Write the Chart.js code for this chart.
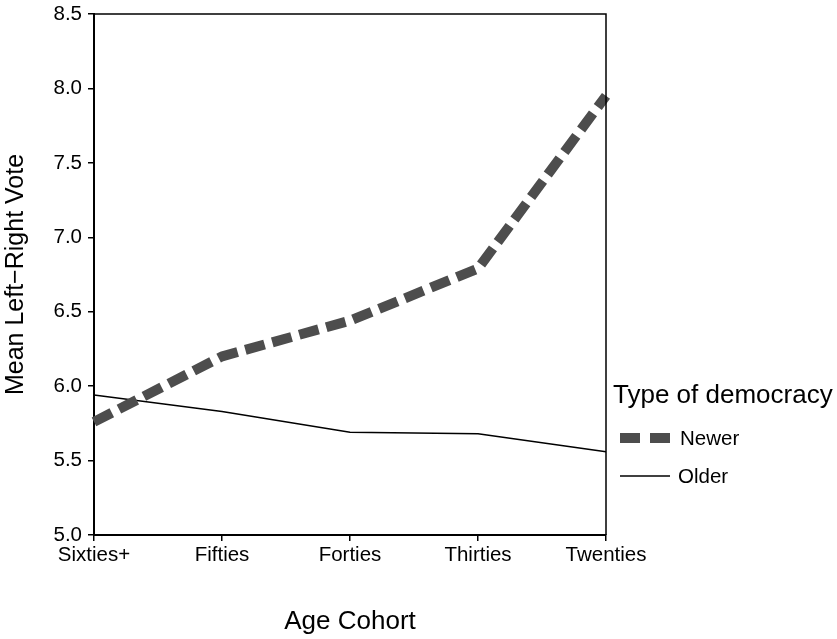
<!DOCTYPE html>
<html lang="en">

<head>
    <meta charset="UTF-8">
    <title>Mean Left-Right Vote by Age Cohort</title>
    <script src="https://cdn.jsdelivr.net/npm/chart.js"></script>
    <style>
        body {
            margin: 0;
            background: #fff;
        }

        #graph {
            width: 837px;
            height: 639px;
        }
    </style>
</head>

<body>
    <div id="graph">
        <canvas id="myChart"></canvas>
    </div>

    <script>
        // dados
        const coortes = ['Sixties+', 'Fifties', 'Forties', 'Thirties', 'Twenties'];
        const votoNewer = [5.76, 6.20, 6.44, 6.79, 7.95];
        const votoOlder = [5.94, 5.83, 5.69, 5.68, 5.56];
        const ticksY = [5.0, 5.5, 6.0, 6.5, 7.0, 7.5, 8.0, 8.5];

        const fonte = "'Liberation Sans', Arial, sans-serif";
        const corNewer = '#4d4d4d';

        // moldura + legenda desenhada à direita
        const legendaPlugin = {
            id: 'legendaPlugin',
            afterDraw(chart) {
                const ctx = chart.ctx;
                const a = chart.chartArea;
                ctx.save();

                // borda de cima e da direita
                ctx.strokeStyle = '#000';
                ctx.lineWidth = 1.5;
                ctx.beginPath();
                ctx.moveTo(a.left, a.top);
                ctx.lineTo(a.right, a.top);
                ctx.lineTo(a.right, a.bottom);
                ctx.stroke();

                const ds = chart.data.datasets;
                ctx.fillStyle = '#000';
                ctx.textBaseline = 'middle';
                ctx.textAlign = 'left';
                ctx.font = '26px ' + fonte;
                ctx.fillText('Type of democracy', 613, 396);

                // Newer
                ctx.strokeStyle = ds[0].borderColor;
                ctx.lineWidth = ds[0].borderWidth;
                ctx.lineCap = 'butt';
                ctx.setLineDash([20, 10]);
                ctx.beginPath();
                ctx.moveTo(620, 438);
                ctx.lineTo(670, 438);
                ctx.stroke();

                // Older
                ctx.setLineDash([]);
                ctx.strokeStyle = ds[1].borderColor;
                ctx.lineWidth = ds[1].borderWidth;
                ctx.beginPath();
                ctx.moveTo(620, 476);
                ctx.lineTo(670, 476);
                ctx.stroke();

                ctx.font = '20.5px ' + fonte;
                ctx.fillText(ds[0].label, 680, 439);
                ctx.fillText(ds[1].label, 678, 477);

                ctx.restore();
            }
        };

        const ctx = document.getElementById('myChart');

        new Chart(ctx, {
            type: 'line',
            data: {
                labels: coortes,
                datasets: [{
                    label: 'Newer',
                    data: votoNewer,
                    borderColor: corNewer,
                    borderWidth: 10,
                    borderDash: [20, 8],
                    borderCapStyle: 'butt',
                    pointRadius: 0,
                    tension: 0
                },
                {
                    label: 'Older',
                    data: votoOlder,
                    borderColor: '#000000',
                    borderWidth: 1.5,
                    pointRadius: 0,
                    tension: 0
                }]
            },
            plugins: [legendaPlugin],
            options: {
                responsive: true,
                maintainAspectRatio: false,
                animation: false,
                layout: {
                    padding: { top: 14, right: 231, bottom: 0, left: 0 }
                },
                plugins: {
                    legend: { display: false },
                    tooltip: { enabled: false }
                },
                scales: {
                    x: {
                        offset: false,
                        afterFit: function (scale) {
                            scale.height = 104;
                            scale.paddingLeft = 0;
                            scale.paddingRight = 0;
                        },
                        grid: {
                            drawOnChartArea: false,
                            color: '#000',
                            lineWidth: 1.5,
                            tickLength: 6
                        },
                        border: { color: '#000', width: 2 },
                        ticks: {
                            color: '#000',
                            padding: 2,
                            maxRotation: 0,
                            font: { family: fonte, size: 20.5 }
                        },
                        title: {
                            display: true,
                            text: 'Age Cohort',
                            color: '#000',
                            padding: { top: 0, bottom: 2 },
                            font: { family: fonte, size: 26 }
                        }
                    },
                    y: {
                        min: ticksY[0],
                        max: ticksY[ticksY.length - 1],
                        afterFit: function (scale) {
                            scale.width = 94;
                            scale.paddingTop = 0;
                            scale.paddingBottom = 0;
                        },
                        afterBuildTicks: function (scale) {
                            scale.ticks = ticksY.map(v => ({ value: v }));
                        },
                        grid: {
                            drawOnChartArea: false,
                            color: '#000',
                            lineWidth: 1.5,
                            tickLength: 6
                        },
                        border: { color: '#000', width: 2 },
                        ticks: {
                            color: '#000',
                            padding: 6,
                            font: { family: fonte, size: 20.5 },
                            callback: function (v) { return Number(v).toFixed(1); }
                        },
                        title: {
                            display: true,
                            text: 'Mean Left\u2212Right Vote',
                            color: '#000',
                            padding: { top: 1, bottom: 0 },
                            font: { family: fonte, size: 25 }
                        }
                    }
                }
            }
        });
    </script>
</body>

</html>
